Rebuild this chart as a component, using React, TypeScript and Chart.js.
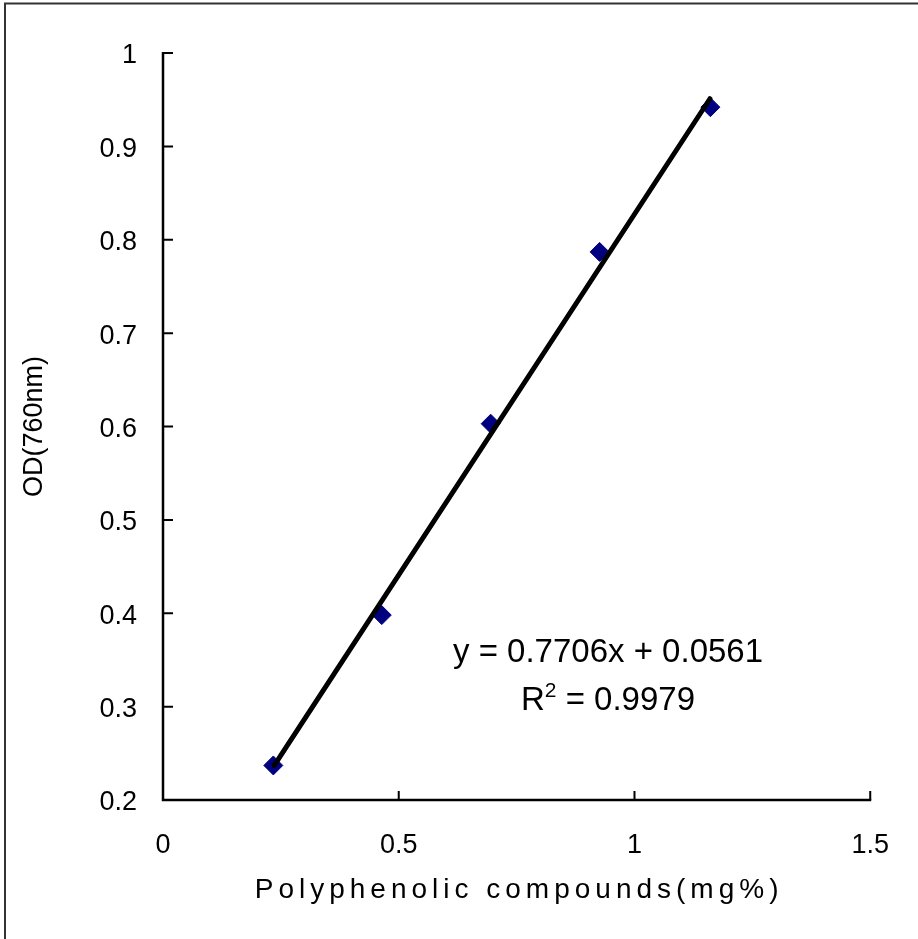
import React, { useEffect, useRef } from "react";
import { Chart, registerables } from "chart.js";

Chart.register(...registerables);

// ---- data ----
const concentrations = [0.234, 0.464, 0.695, 0.926, 1.161];
const absorbances = [0.237, 0.398, 0.603, 0.787, 0.942];
const trendX = [0.236, 1.16];
const trendY = [0.237, 0.951];
const xTicks = [0, 0.5, 1, 1.5];
const yTicks = [0.2, 0.3, 0.4, 0.5, 0.6, 0.7, 0.8, 0.9, 1];
const xTitle = "Polyphenolic compounds(mg%)";
const yTitle = "OD(760nm)";
const equationText = "y = 0.7706x + 0.0561";
const r2Base = "R";
const r2Sup = "2";
const r2Rest = " = 0.9979";

const FONT = "'Liberation Sans', Arial, sans-serif";

const decorPlugin = {
  id: "decor",
  afterDraw(chart: any) {
    const ctx = chart.ctx as CanvasRenderingContext2D;
    const xs = chart.scales.x;
    const ys = chart.scales.y;
    const area = chart.chartArea;
    ctx.save();
    // page frame (top & left)
    ctx.strokeStyle = "#333";
    ctx.lineWidth = 2;
    ctx.beginPath();
    ctx.moveTo(5, 939);
    ctx.lineTo(5, 3.5);
    ctx.lineTo(918, 3.5);
    ctx.stroke();

    // axes
    ctx.strokeStyle = "#000";
    ctx.lineWidth = 2.5;
    ctx.lineCap = "butt";
    const x0 = xs.getPixelForValue(xTicks[0]);
    const y0 = ys.getPixelForValue(yTicks[0]);
    ctx.beginPath();
    ctx.moveTo(x0, ys.getPixelForValue(yTicks[yTicks.length - 1]) - 1);
    ctx.lineTo(x0, y0);
    ctx.lineTo(xs.getPixelForValue(xTicks[xTicks.length - 1]) + 1, y0);
    ctx.stroke();
    ctx.lineWidth = 2;
    ctx.beginPath();
    for (const v of yTicks) {
      const py = ys.getPixelForValue(v);
      ctx.moveTo(x0, py);
      ctx.lineTo(x0 + 10, py);
    }
    for (const v of xTicks) {
      const px = xs.getPixelForValue(v);
      ctx.moveTo(px, y0);
      ctx.lineTo(px, y0 - 9);
    }
    ctx.stroke();

    // axis titles
    ctx.fillStyle = "#000";
    ctx.font = `28px ${FONT}`;
    (ctx as any).letterSpacing = "5px";
    ctx.textAlign = "center";
    ctx.textBaseline = "alphabetic";
    ctx.fillText(xTitle, (area.left + area.right) / 2 + 2.5, 898);
    (ctx as any).letterSpacing = "0px";

    ctx.save();
    ctx.translate(35, (area.top + area.bottom) / 2);
    ctx.rotate(-Math.PI / 2);
    ctx.font = `27px ${FONT}`;
    ctx.textBaseline = "middle";
    ctx.fillText(yTitle, 0, 0);
    ctx.restore();

    // equation annotation
    const cx = 608;
    ctx.font = `33px ${FONT}`;
    ctx.textAlign = "center";
    ctx.textBaseline = "alphabetic";
    ctx.fillText(equationText, cx, 662);
    ctx.textAlign = "left";
    const wR = ctx.measureText(r2Base).width;
    const wRest = ctx.measureText(r2Rest).width;
    ctx.font = `21px ${FONT}`;
    const wSup = ctx.measureText(r2Sup).width;
    const total = wR + wSup + wRest;
    let sx = cx - total / 2;
    ctx.font = `33px ${FONT}`;
    ctx.fillText(r2Base, sx, 710);
    sx += wR;
    ctx.font = `21px ${FONT}`;
    ctx.fillText(r2Sup, sx, 697);
    sx += wSup;
    ctx.font = `33px ${FONT}`;
    ctx.fillText(r2Rest, sx, 710);
    ctx.restore();
  },
};

export default function App() {
  const ref = useRef<HTMLCanvasElement | null>(null);
  useEffect(() => {
    if (!ref.current) return;
    const chart = new Chart(ref.current, {
      type: "scatter",
      data: {
        datasets: [
          {
            label: "Linear trend",
            data: trendX.map((x, i) => ({ x, y: trendY[i] })),
            showLine: true,
            borderColor: "#000",
            borderWidth: 5,
            borderCapStyle: "round",
            pointRadius: 0,
            order: 0,
          } as any,
          {
            label: "OD",
            data: concentrations.map((x, i) => ({ x, y: absorbances[i] })),
            pointStyle: "rectRot",
            pointRadius: 9.5,
            backgroundColor: "#000080",
            borderColor: "#000080",
            borderWidth: 1,
            order: 1,
          },
        ],
      },
      options: {
        animation: false,
        responsive: false,
        devicePixelRatio: 1,
        layout: { padding: { left: 0, right: 47, top: 53, bottom: 0 } },
        plugins: { legend: { display: false }, tooltip: { enabled: false } },
        scales: {
          x: {
            type: "linear",
            min: 0,
            max: 1.5,
            afterBuildTicks: (s: any) => {
              s.ticks = xTicks.map((v) => ({ value: v }));
            },
            afterFit: (s: any) => {
              s.height = 139;
            },
            grid: { display: false, drawTicks: false },
            border: { display: false },
            ticks: {
              padding: 29,
              color: "#000",
              font: { family: FONT, size: 27 },
              maxRotation: 0,
              callback: (v: any) => String(v),
            },
          },
          y: {
            type: "linear",
            min: 0.2,
            max: 1,
            afterBuildTicks: (s: any) => {
              s.ticks = yTicks.map((v) => ({ value: v }));
            },
            afterFit: (s: any) => {
              s.width = 163;
            },
            grid: { display: false, drawTicks: false },
            border: { display: false },
            ticks: {
              padding: 26,
              labelOffset: 3,
              color: "#000",
              font: { family: FONT, size: 27 },
              callback: (v: any) => String(v),
            },
          },
        },
      },
      plugins: [decorPlugin],
    });
    return () => chart.destroy();
  }, []);
  return (
    <div style={{ position: "absolute", left: 0, top: 0, width: 918, height: 939, background: "#fff" }}>
      <canvas ref={ref} width={918} height={939} style={{ display: "block", width: 918, height: 939 }} />
    </div>
  );
}
